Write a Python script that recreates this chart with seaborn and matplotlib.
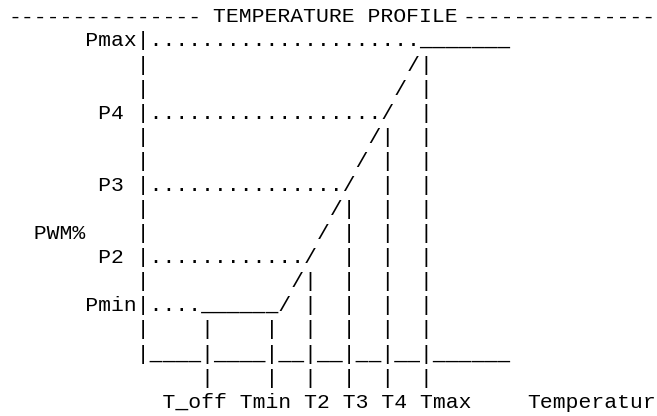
import matplotlib
matplotlib.use("Agg")
import matplotlib.pyplot as plt
import seaborn as sns

# ---- chart content (ASCII temperature profile) ----
title = "TEMPERATURE PROFILE"
y_axis_label = "PWM%"
x_axis_label = "Temperatur"
pwm_levels = ["Pmax", "P4", "P3", "P2", "Pmin"]
temp_points = ["T_off", "Tmin", "T2", "T3", "T4", "Tmax"]

header_left = "-" * 15
header_right = "-" * 15

diagram_rows = [
    " " * 6 + pwm_levels[0] + "|" + "." * 21 + "_" * 7,
    " " * 10 + "|" + " " * 20 + "/|",
    " " * 10 + "|" + " " * 19 + "/ |",
    " " * 7 + pwm_levels[1] + " |" + "." * 18 + "/  |",
    " " * 10 + "|" + " " * 17 + "/|  |",
    " " * 10 + "|" + " " * 16 + "/ |  |",
    " " * 7 + pwm_levels[2] + " |" + "." * 15 + "/  |  |",
    " " * 10 + "|" + " " * 14 + "/|  |  |",
    "  " + y_axis_label + " " * 4 + "|" + " " * 13 + "/ |  |  |",
    " " * 7 + pwm_levels[3] + " |" + "." * 12 + "/  |  |  |",
    " " * 10 + "|" + " " * 11 + "/|  |  |  |",
    " " * 6 + pwm_levels[4] + "|" + "." * 4 + "_" * 6 + "/ |  |  |  |",
    " " * 10 + "|    |    |  |  |  |  |",
    " " * 10 + "|____|____|__|__|__|__|______",
    " " * 15 + "|    |  |  |  |  |",
]
label_row = " " * 12 + " ".join(temp_points)

# ---- layout (pixels) ----
W, H, DPI = 657, 416, 100
X0 = 8.3          # left edge of first character cell
CHAR_W = 12.8     # monospace advance
ROW_H = 24.08     # line pitch
BASE0 = 22.4      # baseline of first (header) row

sns.set_theme(style="white")
plt.rcParams["font.family"] = ["Liberation Mono", "DejaVu Sans Mono"]

fig = plt.figure(figsize=(W / DPI, H / DPI), dpi=DPI)
ax = fig.add_axes([0, 0, 1, 1])
ax.set_xlim(0, W)
ax.set_ylim(H, 0)
ax.axis("off")

font_pt = CHAR_W / 0.6 * 72 / DPI
kw = dict(va="baseline", fontsize=font_pt, color="black")

def col_x(c):
    return X0 + c * CHAR_W

def row_y(r):
    return BASE0 + r * ROW_H

# header
ax.text(col_x(0), row_y(0), header_left, ha="left", **kw)
ax.text(col_x(16), row_y(0), title, ha="left", **kw)
ax.text(W - 1.5, row_y(0), header_right, ha="right", **kw)

# diagram body
for i, line in enumerate(diagram_rows, start=1):
    ax.text(col_x(0), row_y(i), line, ha="left", **kw)

# bottom labels
last = len(diagram_rows) + 1
ax.text(col_x(0), row_y(last), label_row, ha="left", **kw)
ax.text(W - 1.5, row_y(last), x_axis_label, ha="right", **kw)

fig.savefig("out.png", dpi=DPI, facecolor="white")
